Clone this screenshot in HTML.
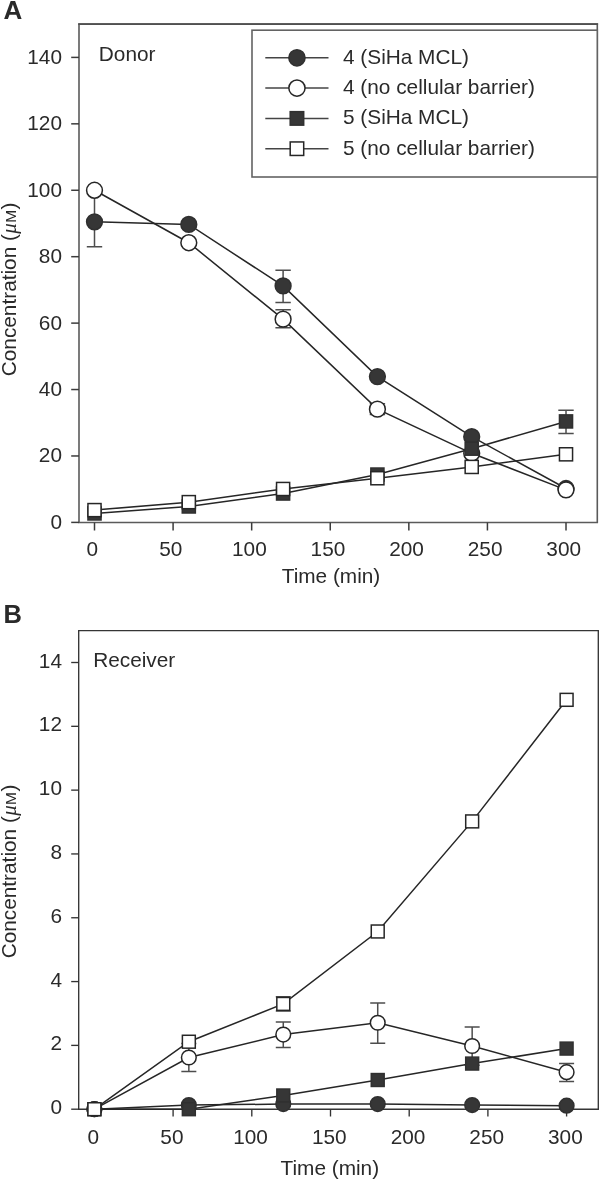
<!DOCTYPE html>
<html><head><meta charset="utf-8"><style>
html,body{margin:0;padding:0;background:#fff;}
body{width:600px;height:1180px;overflow:hidden;}
svg{display:block;will-change:transform;}
.ls{font-family:"Liberation Sans", sans-serif;}
.lserif{font-family:"Liberation Serif", serif;}
</style></head><body>
<svg width="600" height="1180" viewBox="0 0 600 1180">
<g class="ls" font-size="20.8" fill="#2a2a2a">
<text x="3.5" y="19.3" font-weight="bold" font-size="26">A</text>
<text x="98.8" y="60.8">Donor</text>
<path d="M79 24.1H597.3V522.5H79Z" fill="none" stroke="#5a5a5a" stroke-width="1.6"/>
<path d="M78.2 24.1H598.0999999999999" fill="none" stroke="#505050" stroke-width="1.6"/>
<path d="M71.2 522.40H79" stroke="#3c3c3c" stroke-width="1.5"/>
<text x="62" y="528.80" text-anchor="end">0</text>
<path d="M71.2 455.97H79" stroke="#3c3c3c" stroke-width="1.5"/>
<text x="62" y="462.37" text-anchor="end">20</text>
<path d="M71.2 389.54H79" stroke="#3c3c3c" stroke-width="1.5"/>
<text x="62" y="395.94" text-anchor="end">40</text>
<path d="M71.2 323.12H79" stroke="#3c3c3c" stroke-width="1.5"/>
<text x="62" y="329.52" text-anchor="end">60</text>
<path d="M71.2 256.69H79" stroke="#3c3c3c" stroke-width="1.5"/>
<text x="62" y="263.09" text-anchor="end">80</text>
<path d="M71.2 190.26H79" stroke="#3c3c3c" stroke-width="1.5"/>
<text x="62" y="196.66" text-anchor="end">100</text>
<path d="M71.2 123.83H79" stroke="#3c3c3c" stroke-width="1.5"/>
<text x="62" y="130.23" text-anchor="end">120</text>
<path d="M71.2 57.40H79" stroke="#3c3c3c" stroke-width="1.5"/>
<text x="62" y="63.80" text-anchor="end">140</text>
<path d="M94.50 522.5V530.5" stroke="#3c3c3c" stroke-width="1.5"/>
<text x="92.20" y="556.3" text-anchor="middle">0</text>
<path d="M173.09 522.5V530.5" stroke="#3c3c3c" stroke-width="1.5"/>
<text x="170.78" y="556.3" text-anchor="middle">50</text>
<path d="M251.67 522.5V530.5" stroke="#3c3c3c" stroke-width="1.5"/>
<text x="249.37" y="556.3" text-anchor="middle">100</text>
<path d="M330.25 522.5V530.5" stroke="#3c3c3c" stroke-width="1.5"/>
<text x="327.95" y="556.3" text-anchor="middle">150</text>
<path d="M408.84 522.5V530.5" stroke="#3c3c3c" stroke-width="1.5"/>
<text x="406.54" y="556.3" text-anchor="middle">200</text>
<path d="M487.43 522.5V530.5" stroke="#3c3c3c" stroke-width="1.5"/>
<text x="485.12" y="556.3" text-anchor="middle">250</text>
<path d="M566.01 522.5V530.5" stroke="#3c3c3c" stroke-width="1.5"/>
<text x="563.71" y="556.3" text-anchor="middle">300</text>
<rect x="252" y="30.2" width="345.3" height="146.8" fill="#fff" stroke="#636363" stroke-width="1.6"/>
<path d="M265.3 57.80H328.5" stroke="#444" stroke-width="1.5"/>
<circle cx="296.95" cy="57.80" r="8.1" fill="#363636" stroke="#303030" stroke-width="1.5"/>
<text x="343.0" y="63.70">4 (SiHa MCL)</text>
<path d="M265.3 88.10H328.5" stroke="#444" stroke-width="1.5"/>
<circle cx="296.95" cy="88.10" r="8.1" fill="#fff" stroke="#262626" stroke-width="1.5"/>
<text x="343.0" y="94.00">4 (no cellular barrier)</text>
<path d="M265.3 118.40H328.5" stroke="#444" stroke-width="1.5"/>
<rect x="290.20" y="111.65" width="13.50" height="13.50" fill="#363636" stroke="#303030" stroke-width="1.5"/>
<text x="343.0" y="124.30">5 (SiHa MCL)</text>
<path d="M265.3 148.70H328.5" stroke="#444" stroke-width="1.5"/>
<rect x="290.20" y="141.95" width="13.50" height="13.50" fill="#fff" stroke="#262626" stroke-width="1.5"/>
<text x="343.0" y="154.60">5 (no cellular barrier)</text>
<path d="M94.50 246.72V188.60M86.80 246.72H102.20M86.80 188.60H102.20" stroke="#4d4d4d" stroke-width="1.5" fill="none"/>
<path d="M283.10 302.52V270.31M275.40 302.52H290.80M275.40 270.31H290.80" stroke="#4d4d4d" stroke-width="1.5" fill="none"/>
<path d="M283.10 327.77V309.83M275.40 327.77H290.80M275.40 309.83H290.80" stroke="#4d4d4d" stroke-width="1.5" fill="none"/>
<path d="M377.41 414.45V403.83M369.71 414.45H385.11M369.71 403.83H385.11" stroke="#4d4d4d" stroke-width="1.5" fill="none"/>
<path d="M566.01 433.39V410.14M558.31 433.39H573.71M558.31 410.14H573.71" stroke="#4d4d4d" stroke-width="1.5" fill="none"/>
<polyline points="94.50,221.81 188.80,224.47 283.10,285.92 377.41,376.59 471.71,436.71 566.01,488.52" fill="none" stroke="#262626" stroke-width="1.5"/>
<circle cx="94.50" cy="221.81" r="7.9" fill="#363636" stroke="#303030" stroke-width="1.5"/>
<circle cx="188.80" cy="224.47" r="7.9" fill="#363636" stroke="#303030" stroke-width="1.5"/>
<circle cx="283.10" cy="285.92" r="7.9" fill="#363636" stroke="#303030" stroke-width="1.5"/>
<circle cx="377.41" cy="376.59" r="7.9" fill="#363636" stroke="#303030" stroke-width="1.5"/>
<circle cx="471.71" cy="436.71" r="7.9" fill="#363636" stroke="#303030" stroke-width="1.5"/>
<circle cx="566.01" cy="488.52" r="7.9" fill="#363636" stroke="#303030" stroke-width="1.5"/>
<polyline points="94.50,190.26 188.80,242.74 283.10,319.13 377.41,409.14 471.71,453.31 566.01,489.85" fill="none" stroke="#262626" stroke-width="1.5"/>
<circle cx="94.50" cy="190.26" r="7.9" fill="#fff" stroke="#262626" stroke-width="1.5"/>
<circle cx="188.80" cy="242.74" r="7.9" fill="#fff" stroke="#262626" stroke-width="1.5"/>
<circle cx="283.10" cy="319.13" r="7.9" fill="#fff" stroke="#262626" stroke-width="1.5"/>
<circle cx="377.41" cy="409.14" r="7.9" fill="#fff" stroke="#262626" stroke-width="1.5"/>
<circle cx="471.71" cy="453.31" r="7.9" fill="#fff" stroke="#262626" stroke-width="1.5"/>
<circle cx="566.01" cy="489.85" r="7.9" fill="#fff" stroke="#262626" stroke-width="1.5"/>
<polyline points="94.50,513.43 188.80,506.46 283.10,493.50 377.41,474.57 471.71,448.66 566.01,421.43" fill="none" stroke="#262626" stroke-width="1.5"/>
<rect x="87.95" y="506.88" width="13.10" height="13.10" fill="#363636" stroke="#303030" stroke-width="1.5"/>
<rect x="182.25" y="499.91" width="13.10" height="13.10" fill="#363636" stroke="#303030" stroke-width="1.5"/>
<rect x="276.55" y="486.95" width="13.10" height="13.10" fill="#363636" stroke="#303030" stroke-width="1.5"/>
<rect x="370.86" y="468.02" width="13.10" height="13.10" fill="#363636" stroke="#303030" stroke-width="1.5"/>
<rect x="465.16" y="442.11" width="13.10" height="13.10" fill="#363636" stroke="#303030" stroke-width="1.5"/>
<rect x="559.46" y="414.88" width="13.10" height="13.10" fill="#363636" stroke="#303030" stroke-width="1.5"/>
<polyline points="94.50,510.11 188.80,502.14 283.10,488.99 377.41,478.23 471.71,466.93 566.01,454.31" fill="none" stroke="#262626" stroke-width="1.5"/>
<rect x="87.95" y="503.56" width="13.10" height="13.10" fill="#fff" stroke="#262626" stroke-width="1.5"/>
<rect x="182.25" y="495.59" width="13.10" height="13.10" fill="#fff" stroke="#262626" stroke-width="1.5"/>
<rect x="276.55" y="482.44" width="13.10" height="13.10" fill="#fff" stroke="#262626" stroke-width="1.5"/>
<rect x="370.86" y="471.68" width="13.10" height="13.10" fill="#fff" stroke="#262626" stroke-width="1.5"/>
<rect x="465.16" y="460.38" width="13.10" height="13.10" fill="#fff" stroke="#262626" stroke-width="1.5"/>
<rect x="559.46" y="447.76" width="13.10" height="13.10" fill="#fff" stroke="#262626" stroke-width="1.5"/>
<text transform="translate(16.3 289.4) rotate(-90)" text-anchor="middle" font-size="20.8">Concentration (<tspan dx="0.3" font-style="italic" class="lserif" font-size="21">μ</tspan><tspan dx="0.4" font-size="15.5">M</tspan><tspan dx="0.4">)</tspan></text>
<text x="331" y="582.8" text-anchor="middle">Time (min)</text>
<text x="3.5" y="623.3" font-weight="bold" font-size="25.5">B</text>
<text x="93.2" y="666.7">Receiver</text>
<path d="M78.7 630.6H598.3V1109.2H78.7Z" fill="none" stroke="#353535" stroke-width="1.35"/>
<path d="M71.2 1109.20H78.7" stroke="#333" stroke-width="1.35"/>
<text x="62" y="1114.30" text-anchor="end">0</text>
<path d="M71.2 1045.39H78.7" stroke="#333" stroke-width="1.35"/>
<text x="62" y="1050.49" text-anchor="end">2</text>
<path d="M71.2 981.57H78.7" stroke="#333" stroke-width="1.35"/>
<text x="62" y="986.67" text-anchor="end">4</text>
<path d="M71.2 917.76H78.7" stroke="#333" stroke-width="1.35"/>
<text x="62" y="922.86" text-anchor="end">6</text>
<path d="M71.2 853.94H78.7" stroke="#333" stroke-width="1.35"/>
<text x="62" y="859.04" text-anchor="end">8</text>
<path d="M71.2 790.13H78.7" stroke="#333" stroke-width="1.35"/>
<text x="62" y="795.23" text-anchor="end">10</text>
<path d="M71.2 726.32H78.7" stroke="#333" stroke-width="1.35"/>
<text x="62" y="731.42" text-anchor="end">12</text>
<path d="M71.2 662.50H78.7" stroke="#333" stroke-width="1.35"/>
<text x="62" y="667.60" text-anchor="end">14</text>
<path d="M94.40 1109.2V1116.5" stroke="#333" stroke-width="1.35"/>
<text x="93.20" y="1144.2" text-anchor="middle">0</text>
<path d="M173.10 1109.2V1116.5" stroke="#333" stroke-width="1.35"/>
<text x="171.90" y="1144.2" text-anchor="middle">50</text>
<path d="M251.80 1109.2V1116.5" stroke="#333" stroke-width="1.35"/>
<text x="250.60" y="1144.2" text-anchor="middle">100</text>
<path d="M330.50 1109.2V1116.5" stroke="#333" stroke-width="1.35"/>
<text x="329.30" y="1144.2" text-anchor="middle">150</text>
<path d="M409.20 1109.2V1116.5" stroke="#333" stroke-width="1.35"/>
<text x="408.00" y="1144.2" text-anchor="middle">200</text>
<path d="M487.90 1109.2V1116.5" stroke="#333" stroke-width="1.35"/>
<text x="486.70" y="1144.2" text-anchor="middle">250</text>
<path d="M566.60 1109.2V1116.5" stroke="#333" stroke-width="1.35"/>
<text x="565.40" y="1144.2" text-anchor="middle">300</text>
<path d="M188.84 1071.55V1043.47M181.34 1071.55H196.34M181.34 1043.47H196.34" stroke="#4d4d4d" stroke-width="1.5" fill="none"/>
<path d="M283.28 1047.62V1022.09M275.78 1047.62H290.78M275.78 1022.09H290.78" stroke="#4d4d4d" stroke-width="1.5" fill="none"/>
<path d="M377.72 1043.15V1002.95M370.22 1043.15H385.22M370.22 1002.95H385.22" stroke="#4d4d4d" stroke-width="1.5" fill="none"/>
<path d="M472.16 1065.17V1026.88M464.66 1065.17H479.66M464.66 1026.88H479.66" stroke="#4d4d4d" stroke-width="1.5" fill="none"/>
<path d="M566.60 1081.44V1063.57M559.10 1081.44H574.10M559.10 1063.57H574.10" stroke="#4d4d4d" stroke-width="1.5" fill="none"/>
<path d="M283.28 1011.09V996.73M275.78 1011.09H290.78M275.78 996.73H290.78" stroke="#4d4d4d" stroke-width="1.5" fill="none"/>
<polyline points="94.40,1109.20 188.84,1105.05 283.28,1104.09 377.72,1104.09 472.16,1105.05 566.60,1105.69" fill="none" stroke="#262626" stroke-width="1.5"/>
<circle cx="94.40" cy="1109.20" r="7.35" fill="#363636" stroke="#303030" stroke-width="1.5"/>
<circle cx="188.84" cy="1105.05" r="7.35" fill="#363636" stroke="#303030" stroke-width="1.5"/>
<circle cx="283.28" cy="1104.09" r="7.35" fill="#363636" stroke="#303030" stroke-width="1.5"/>
<circle cx="377.72" cy="1104.09" r="7.35" fill="#363636" stroke="#303030" stroke-width="1.5"/>
<circle cx="472.16" cy="1105.05" r="7.35" fill="#363636" stroke="#303030" stroke-width="1.5"/>
<circle cx="566.60" cy="1105.69" r="7.35" fill="#363636" stroke="#303030" stroke-width="1.5"/>
<polyline points="94.40,1109.20 188.84,1057.51 283.28,1034.54 377.72,1022.73 472.16,1046.02 566.60,1072.19" fill="none" stroke="#262626" stroke-width="1.5"/>
<circle cx="94.40" cy="1109.20" r="7.35" fill="#fff" stroke="#262626" stroke-width="1.5"/>
<circle cx="188.84" cy="1057.51" r="7.35" fill="#fff" stroke="#262626" stroke-width="1.5"/>
<circle cx="283.28" cy="1034.54" r="7.35" fill="#fff" stroke="#262626" stroke-width="1.5"/>
<circle cx="377.72" cy="1022.73" r="7.35" fill="#fff" stroke="#262626" stroke-width="1.5"/>
<circle cx="472.16" cy="1046.02" r="7.35" fill="#fff" stroke="#262626" stroke-width="1.5"/>
<circle cx="566.60" cy="1072.19" r="7.35" fill="#fff" stroke="#262626" stroke-width="1.5"/>
<polyline points="94.40,1109.20 188.84,1109.20 283.28,1095.48 377.72,1080.01 472.16,1063.57 566.60,1048.58" fill="none" stroke="#262626" stroke-width="1.5"/>
<rect x="87.95" y="1102.75" width="12.90" height="12.90" fill="#363636" stroke="#303030" stroke-width="1.5"/>
<rect x="182.39" y="1102.75" width="12.90" height="12.90" fill="#363636" stroke="#303030" stroke-width="1.5"/>
<rect x="276.83" y="1089.03" width="12.90" height="12.90" fill="#363636" stroke="#303030" stroke-width="1.5"/>
<rect x="371.27" y="1073.56" width="12.90" height="12.90" fill="#363636" stroke="#303030" stroke-width="1.5"/>
<rect x="465.71" y="1057.12" width="12.90" height="12.90" fill="#363636" stroke="#303030" stroke-width="1.5"/>
<rect x="560.15" y="1042.13" width="12.90" height="12.90" fill="#363636" stroke="#303030" stroke-width="1.5"/>
<polyline points="94.40,1109.20 188.84,1041.72 283.28,1003.91 377.72,931.48 472.16,821.40 566.60,699.83" fill="none" stroke="#262626" stroke-width="1.5"/>
<rect x="87.95" y="1102.75" width="12.90" height="12.90" fill="#fff" stroke="#262626" stroke-width="1.5"/>
<rect x="182.39" y="1035.27" width="12.90" height="12.90" fill="#fff" stroke="#262626" stroke-width="1.5"/>
<rect x="276.83" y="997.46" width="12.90" height="12.90" fill="#fff" stroke="#262626" stroke-width="1.5"/>
<rect x="371.27" y="925.03" width="12.90" height="12.90" fill="#fff" stroke="#262626" stroke-width="1.5"/>
<rect x="465.71" y="814.95" width="12.90" height="12.90" fill="#fff" stroke="#262626" stroke-width="1.5"/>
<rect x="560.15" y="693.38" width="12.90" height="12.90" fill="#fff" stroke="#262626" stroke-width="1.5"/>
<text transform="translate(16.3 871.5) rotate(-90)" text-anchor="middle" font-size="20.8">Concentration (<tspan dx="0.3" font-style="italic" class="lserif" font-size="21">μ</tspan><tspan dx="0.4" font-size="15.5">M</tspan><tspan dx="0.4">)</tspan></text>
<text x="329.8" y="1174.5" text-anchor="middle">Time (min)</text>
</g></svg>
</body></html>
